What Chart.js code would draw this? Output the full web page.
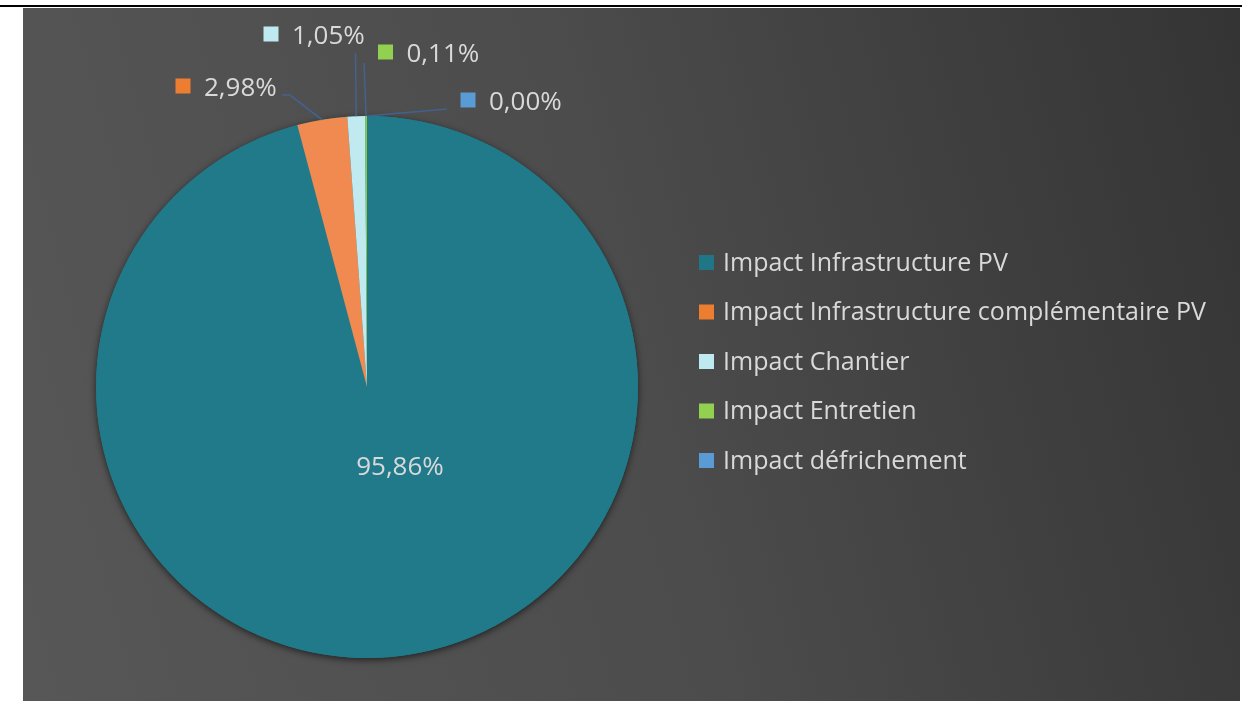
<!DOCTYPE html>
<html>
<head>
<meta charset="utf-8">
<script src="https://cdn.jsdelivr.net/npm/chart.js@4.4.1/dist/chart.umd.min.js"></script>
<style>
  html, body { margin: 0; padding: 0; background: #fff; }
  body { width: 1242px; height: 701px; position: relative; overflow: hidden; }
  #trait { position: absolute; left: 0; top: 5px; width: 1242px; height: 2px; background: #000; }
  #cadre {
    position: absolute; left: 23px; top: 8px; width: 1217px; height: 693px;
    background: linear-gradient(75deg, #575757 0%, #4c4c4c 50%, #343434 100%);
  }
</style>
</head>
<body>
<div id="trait"></div>
<div id="cadre"><canvas id="camembert" width="1217" height="693"></canvas></div>
<script>
const categories = [
  "Impact Infrastructure PV",
  "Impact Infrastructure complémentaire PV",
  "Impact Chantier",
  "Impact Entretien",
  "Impact défrichement",
];
const valeurs = [95.86, 2.98, 1.05, 0.11, 0.00];

const couleursParts = ["#217a8a", "#f08a50", "#c0e9f0", "#8cc84b", "#5b9bd5"];
const couleursCles = ["#1f7686", "#ed7d31", "#bfe9f0", "#92d050", "#5b9bd5"];

const texte = "#d9d9d9";
const police = "'Open Sans', sans-serif";

// étiquettes : centre du carré (ou du texte si interne) par rapport au centre du camembert,
// et point de départ du trait de rappel
const etiquettes = [
  { x: 33, y: 81, interne: true },
  { x: -184, y: -301, trait: [[-85, -292], [-77, -292]] },
  { x: -96, y: -353, trait: [[-11.5, -334]] },
  { x: 18.5, y: -335, trait: [[-3, -324]] },
  { x: 101, y: -287, trait: [[80, -278]] },
];

function fmt(v) {
  return v.toFixed(2).replace(".", ",") + "%";
}

// ombre portée sous le disque
const ombre = {
  id: "ombre",
  beforeDatasetsDraw(chart) {
    const arc = chart.getDatasetMeta(0).data[0];
    const ctx = chart.ctx;
    ctx.save();
    ctx.shadowColor = "rgba(0,0,0,0.6)";
    ctx.shadowBlur = 7;
    ctx.shadowOffsetY = 2;
    ctx.fillStyle = couleursParts[0];
    ctx.beginPath();
    ctx.arc(arc.x, arc.y, arc.outerRadius, 0, Math.PI * 2);
    ctx.fill();
    ctx.restore();
  },
};

// pourcentages et traits de rappel
const pourcentages = {
  id: "pourcentages",
  afterDatasetsDraw(chart) {
    const ctx = chart.ctx;
    const arcs = chart.getDatasetMeta(0).data;
    ctx.save();
    ctx.font = "26px " + police;
    ctx.textBaseline = "middle";
    arcs.forEach((arc, i) => {
      const e = etiquettes[i];
      const cx = arc.x, cy = arc.y;
      if (e.interne) {
        ctx.fillStyle = texte;
        ctx.textAlign = "center";
        ctx.fillText(fmt(valeurs[i]), cx + e.x, cy + e.y);
        return;
      }
      const mi = (arc.startAngle + arc.endAngle) / 2;
      const bx = cx + Math.cos(mi) * arc.outerRadius;
      const by = cy + Math.sin(mi) * arc.outerRadius;
      ctx.strokeStyle = "#44618d";
      ctx.lineWidth = 1.6;
      ctx.beginPath();
      e.trait.forEach(([tx, ty], k) => {
        if (k === 0) ctx.moveTo(cx + tx, cy + ty);
        else ctx.lineTo(cx + tx, cy + ty);
      });
      ctx.lineTo(bx, by);
      ctx.stroke();

      const sx = cx + e.x, sy = cy + e.y;
      ctx.fillStyle = couleursCles[i];
      ctx.fillRect(sx - 7.5, sy - 7.5, 15, 15);
      ctx.fillStyle = texte;
      ctx.textAlign = "left";
      ctx.fillText(fmt(valeurs[i]), sx + 21, sy + 2.5);
    });
    ctx.restore();
  },
};

// légende à droite
const legende = {
  id: "legende",
  afterDraw(chart) {
    const ctx = chart.ctx;
    ctx.save();
    ctx.font = "25px " + police;
    ctx.textBaseline = "middle";
    ctx.textAlign = "left";
    categories.forEach((nom, i) => {
      const y = 254 + i * 49.5;
      ctx.fillStyle = couleursCles[i];
      ctx.fillRect(676, y - 7, 15, 15);
      ctx.fillStyle = texte;
      ctx.fillText(nom, 700, y + 1.5);
    });
    ctx.restore();
  },
};

new Chart(document.getElementById("camembert"), {
  type: "pie",
  data: {
    labels: categories,
    datasets: [{
      data: valeurs,
      backgroundColor: couleursParts,
      borderWidth: 0,
    }],
  },
  options: {
    responsive: false,
    animation: false,
    layout: { padding: { top: 108, bottom: 43, left: 73, right: 602 } },
    plugins: {
      legend: { display: false },
      tooltip: { enabled: false },
    },
  },
  plugins: [ombre, pourcentages, legende],
});
</script>
</body>
</html>
